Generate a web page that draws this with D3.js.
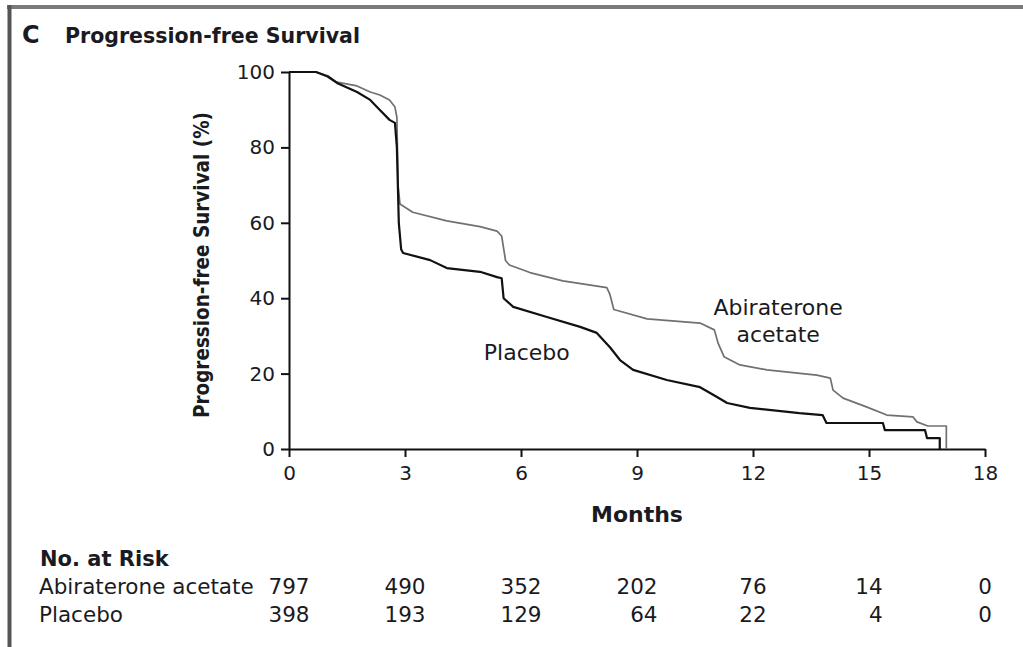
<!DOCTYPE html>
<html>
<head>
<meta charset="utf-8">
<script src="https://cdn.jsdelivr.net/npm/d3@7"></script>
<style>
  html, body { margin: 0; padding: 0; background: #fff; }
  svg { display: block; }
  text { font-family: "DejaVu Sans", sans-serif; fill: #1a1a22; }
</style>
</head>
<body>
<svg id="chart" width="1023" height="647"></svg>
<script>
// ---- Data ----
const xTicks = [0, 3, 6, 9, 12, 15, 18];
const yTicks = [0, 20, 40, 60, 80, 100];

// Kaplan-Meier curves: [month, % progression-free]
const abiraterone = [
  [0,100],[0.7,100],[1.0,99],[1.24,97.3],[1.76,96.3],[2.1,94.7],[2.35,93.9],[2.6,92.6],
  [2.74,90.7],[2.79,88],[2.82,70],[2.87,65],[3.2,62.8],[4.08,60.5],[4.94,59],[5.38,57.8],
  [5.5,56.5],[5.6,50],[5.7,48.8],[6.23,46.8],[7.08,44.6],[8.22,42.8],[8.3,41],[8.4,37],
  [9.26,34.5],[10.63,33.4],[11.0,31.6],[11.1,28],[11.25,24.5],[11.66,22.3],[12.36,21],
  [13.65,19.6],[14.0,18.8],[14.07,15.6],[14.33,13.5],[14.95,11.1],[15.46,9.0],[16.14,8.5],
  [16.24,7.2],[16.52,6.1],[17.0,6.1],[17.0,0]
];
const placebo = [
  [0,100],[0.7,100],[1.0,98.8],[1.24,97.1],[1.76,94.7],[2.1,92.6],[2.35,89.9],[2.6,87.3],
  [2.74,86.5],[2.79,80],[2.84,60],[2.9,53],[2.95,52],[3.65,50.1],[4.08,48],[4.94,47],
  [5.38,45.6],[5.5,45.3],[5.55,40],[5.8,37.7],[6.67,35],[7.53,32.4],[7.96,30.8],[8.3,27],
  [8.56,23.6],[8.9,21],[9.77,18.3],[10.63,16.4],[11.07,13.8],[11.33,12.2],[11.92,10.9],
  [13.2,9.5],[13.8,9.0],[13.9,6.9],[15.36,6.9],[15.41,5.0],[16.45,5.0],[16.5,2.9],
  [16.83,2.9],[16.83,0]
];

const riskGroups = ["Abiraterone acetate", "Placebo"];
const riskAbiraterone = [797, 490, 352, 202, 76, 14, 0];
const riskPlacebo = [398, 193, 129, 64, 22, 4, 0];

// ---- Drawing ----
const svg = d3.select("#chart");
const x = d3.scaleLinear().domain([0, 18]).range([289, 985]);
const y = d3.scaleLinear().domain([0, 100]).range([449, 72]);

// frame
svg.append("line").attr("x1", 7).attr("x2", 1023).attr("y1", 7).attr("y2", 7)
  .attr("stroke", "#7a7a7a").attr("stroke-width", 4);
svg.append("line").attr("x1", 9.5).attr("x2", 9.5).attr("y1", 5).attr("y2", 647)
  .attr("stroke", "#555").attr("stroke-width", 4);

// title
svg.append("text").attr("x", 22).attr("y", 43).attr("font-weight", "bold")
  .attr("font-size", 24).text("C");
svg.append("text").attr("x", 65).attr("y", 43).attr("font-weight", "bold")
  .attr("font-size", 20.5).attr("textLength", 295).attr("lengthAdjust", "spacingAndGlyphs")
  .text("Progression-free Survival");

// axes
const yAxis = svg.append("g").attr("transform", `translate(${x(0)},0)`)
  .call(d3.axisLeft(y).tickValues(yTicks).tickSize(8).tickSizeOuter(0).tickPadding(6));
const xAxis = svg.append("g").attr("transform", `translate(0,${y(0)})`)
  .call(d3.axisBottom(x).tickValues(xTicks).tickSize(8).tickSizeOuter(0).tickPadding(9));
[yAxis, xAxis].forEach(g => {
  g.selectAll("path, line").attr("stroke", "#111").attr("stroke-width", 2);
  g.selectAll("text").attr("font-size", 20).attr("font-family", "DejaVu Sans, sans-serif")
    .attr("fill", "#1a1a2a");
});

// axis titles
svg.append("text").attr("transform", `translate(209,265) rotate(-90)`)
  .attr("text-anchor", "middle").attr("font-weight", "bold").attr("font-size", 22)
  .attr("textLength", 306).attr("lengthAdjust", "spacingAndGlyphs")
  .text("Progression-free Survival (%)");
svg.append("text").attr("x", (x(0)+x(18))/2).attr("y", 522).attr("text-anchor", "middle")
  .attr("font-weight", "bold").attr("font-size", 22).text("Months");

// curves
const line = d3.line().x(d => x(d[0])).y(d => y(d[1]));
svg.append("path").datum(abiraterone).attr("d", line).attr("fill", "none")
  .attr("stroke", "#707070").attr("stroke-width", 1.7).attr("stroke-linejoin", "round");
svg.append("path").datum(placebo).attr("d", line).attr("fill", "none")
  .attr("stroke", "#111").attr("stroke-width", 2.2).attr("stroke-linejoin", "round");

// curve labels
svg.append("text").attr("x", x(12.65)).attr("y", 315).attr("text-anchor", "middle")
  .attr("font-size", 22).text("Abiraterone");
svg.append("text").attr("x", x(12.65)).attr("y", 342).attr("text-anchor", "middle")
  .attr("font-size", 22).text("acetate");
svg.append("text").attr("x", x(6.15)).attr("y", 360).attr("text-anchor", "middle")
  .attr("font-size", 22).text("Placebo");

// risk table
const fs = 21.5, digitW = 0.636 * fs;
svg.append("text").attr("x", 40).attr("y", 566).attr("font-weight", "bold")
  .attr("font-size", 21).text("No. at Risk");
const rows = [riskAbiraterone, riskPlacebo];
const rowY = [594, 622];
rows.forEach((vals, r) => {
  svg.append("text").attr("x", 39).attr("y", rowY[r]).attr("font-size", fs).text(riskGroups[r]);
  vals.forEach((v, i) => {
    const maxChars = Math.max(...rows.map(rr => String(rr[i]).length));
    svg.append("text").attr("x", x(xTicks[i]) + maxChars * digitW / 2)
      .attr("y", rowY[r]).attr("text-anchor", "end").attr("font-size", fs).text(v);
  });
});
</script>
</body>
</html>
